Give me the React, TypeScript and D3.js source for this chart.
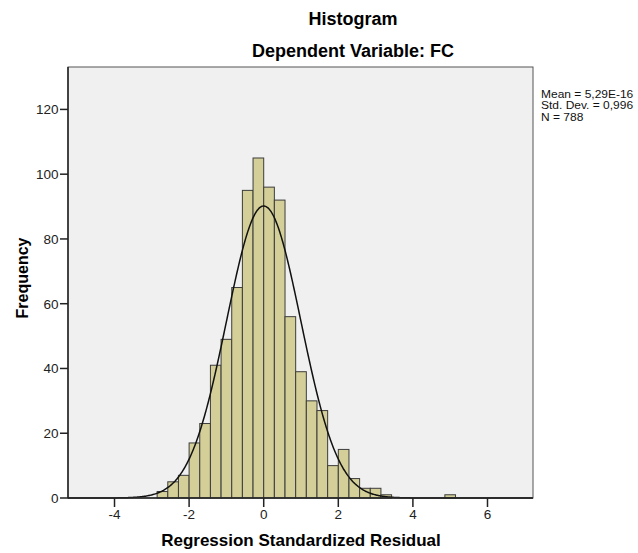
import React, { useRef, useEffect } from 'react';
import * as d3 from 'd3';

// bin width used by the histogram (7 bins per 2 units)
const BIN_WIDTH = 2 / 7;
const FIRST_BIN = -10; // index of first bin, edge = index * BIN_WIDTH
const COUNTS = [
  2, 5, 7, 17, 23, 41, 49, 65, 95, 105,
  96, 92, 56, 39, 30, 27, 10, 15, 6, 3, 3, 1, 0, 0, 0, 0, 0, 1,
];
const X_TICKS = [-4, -2, 0, 2, 4, 6];
const Y_TICKS = [0, 20, 40, 60, 80, 100, 120];
const STATS = { mean: 5.29e-16, sd: 0.996, n: 788 };
const LEGEND = ['Mean = 5,29E-16', 'Std. Dev. = 0,996', 'N = 788'];

const W = 638;
const H = 553;
const FONT = 'Liberation Sans, Arial, sans-serif';

export default function App() {
  const svgRef = useRef<SVGSVGElement | null>(null);

  useEffect(() => {
    const svg = d3.select(svgRef.current);
    svg.selectAll('*').remove();

    const left = 68, right = 533, top = 67, bottom = 498;
    const x = d3.scaleLinear().domain([-5.247, 7.22]).range([left, right]);
    const y = d3.scaleLinear().domain([0, 133.1]).range([bottom, top]);

    svg.append('rect').attr('width', W).attr('height', H).attr('fill', '#fff');

    // plot area
    svg.append('rect')
      .attr('x', left).attr('y', top)
      .attr('width', right - left).attr('height', bottom - top)
      .attr('fill', '#f0f0f0');

    // bars
    const bins = COUNTS.map((c, i) => ({
      x0: (FIRST_BIN + i) * BIN_WIDTH,
      x1: (FIRST_BIN + i + 1) * BIN_WIDTH,
      c,
    })).filter(b => b.c > 0);

    svg.append('g').selectAll('rect')
      .data(bins)
      .enter()
      .append('rect')
      .attr('x', d => x(d.x0))
      .attr('y', d => y(d.c))
      .attr('width', d => x(d.x1) - x(d.x0))
      .attr('height', d => y(0) - y(d.c))
      .attr('fill', '#d4cf98')
      .attr('stroke', '#3c3c3c')
      .attr('stroke-width', 1);

    // normal curve
    const scale = STATS.n * BIN_WIDTH;
    const pdf = (v: number) =>
      Math.exp(-0.5 * ((v - STATS.mean) / STATS.sd) ** 2) / (STATS.sd * Math.sqrt(2 * Math.PI));
    const pts = d3.range(-5.247, 7.22, 0.02).map(v => [v, scale * pdf(v)] as [number, number]);
    const line = d3.line<[number, number]>().x(d => x(d[0])).y(d => y(d[1])).curve(d3.curveBasis);
    svg.append('path')
      .attr('d', line(pts))
      .attr('fill', 'none')
      .attr('stroke', '#111')
      .attr('stroke-width', 1.5);

    // frame
    svg.append('rect')
      .attr('x', left).attr('y', top)
      .attr('width', right - left).attr('height', bottom - top)
      .attr('fill', 'none')
      .attr('stroke', '#555')
      .attr('stroke-width', 1);
    svg.append('line')
      .attr('x1', left).attr('x2', right).attr('y1', bottom).attr('y2', bottom)
      .attr('stroke', '#222').attr('stroke-width', 1.5);
    svg.append('line')
      .attr('x1', left).attr('x2', left).attr('y1', top).attr('y2', bottom)
      .attr('stroke', '#222').attr('stroke-width', 1.5);

    // y axis ticks
    const gy = svg.append('g');
    gy.selectAll('line').data(Y_TICKS).enter().append('line')
      .attr('x1', left - 8).attr('x2', left)
      .attr('y1', d => y(d)).attr('y2', d => y(d))
      .attr('stroke', '#222').attr('stroke-width', 1.5);
    gy.selectAll('text').data(Y_TICKS).enter().append('text')
      .attr('x', left - 9.5).attr('y', d => y(d) + 4.8)
      .attr('text-anchor', 'end')
      .attr('font-family', FONT).attr('font-size', 13.5).attr('fill', '#222')
      .text(d => String(d));

    // x axis ticks
    const gx = svg.append('g');
    gx.selectAll('line').data(X_TICKS).enter().append('line')
      .attr('x1', d => x(d)).attr('x2', d => x(d))
      .attr('y1', bottom).attr('y2', bottom + 9)
      .attr('stroke', '#222').attr('stroke-width', 1.5);
    gx.selectAll('text').data(X_TICKS).enter().append('text')
      .attr('x', d => x(d)).attr('y', bottom + 21)
      .attr('text-anchor', 'middle')
      .attr('font-family', FONT).attr('font-size', 13.5).attr('fill', '#222')
      .text(d => String(d));

    // titles
    svg.append('text')
      .attr('x', 353).attr('y', 25).attr('text-anchor', 'middle')
      .attr('font-family', FONT).attr('font-size', 18).attr('font-weight', 'bold')
      .text('Histogram');
    svg.append('text')
      .attr('x', 353).attr('y', 57).attr('text-anchor', 'middle')
      .attr('font-family', FONT).attr('font-size', 18).attr('font-weight', 'bold')
      .text('Dependent Variable: FC');

    svg.append('text')
      .attr('x', 301).attr('y', 546).attr('text-anchor', 'middle')
      .attr('font-family', FONT).attr('font-size', 17).attr('font-weight', 'bold')
      .text('Regression Standardized Residual');
    svg.append('text')
      .attr('transform', 'translate(28,278) rotate(-90)')
      .attr('text-anchor', 'middle')
      .attr('font-family', FONT).attr('font-size', 16).attr('font-weight', 'bold')
      .text('Frequency');

    // legend (SPSS renders this small and wide)
    svg.append('g').selectAll('text').data(LEGEND).enter().append('text')
      .attr('transform', (d, i) => `translate(541,${97.8 + i * 11.4}) scale(1.2,1)`)
      .attr('font-family', FONT).attr('font-size', 10).attr('fill', '#111')
      .text(d => d);
  }, []);

  return (
    <div style={{ position: 'absolute', left: 0, top: 0 }}>
      <svg ref={svgRef} width={W} height={H} />
    </div>
  );
}
